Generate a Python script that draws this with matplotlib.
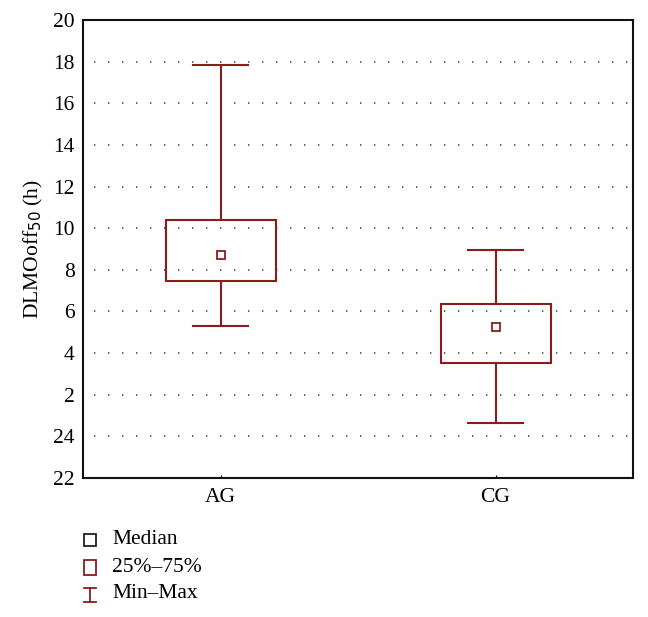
import matplotlib
matplotlib.use("Agg")
import matplotlib.pyplot as plt
from matplotlib.lines import Line2D
from matplotlib.patches import Rectangle

plt.rcParams['font.family'] = ['Liberation Serif', 'DejaVu Serif']

# Data (hours on a continuous clock axis starting at 22:00; 26 == 2 h next day)
groups = ["AG", "CG"]
mins = [29.3, 24.66]
q1s = [31.46, 27.51]
medians = [32.72, 29.23]
q3s = [34.39, 30.37]
maxs = [41.86, 32.93]
ytick_vals = [22, 24, 26, 28, 30, 32, 34, 36, 38, 40, 42, 44]
ytick_labels = ["22", "24", "2", "4", "6", "8", "10", "12", "14", "16", "18", "20"]

red = "#8a1c1c"
fs = 15.5
W, H = 648, 617
fig = plt.figure(figsize=(W / 100, H / 100), dpi=100)
ax = fig.add_axes([83 / W, 1 - 478 / H, 550 / W, 458 / H])

box_w = 0.4
cap_w = 0.2
for i in range(len(groups)):
    ax.add_patch(Rectangle((i - box_w / 2, q1s[i]), box_w, q3s[i] - q1s[i],
                           fill=False, edgecolor=red, lw=1.5, zorder=3))
    ax.plot([i, i], [q3s[i], maxs[i]], color=red, lw=1.5, zorder=3)
    ax.plot([i, i], [mins[i], q1s[i]], color=red, lw=1.5, zorder=3)
    ax.plot([i - cap_w / 2, i + cap_w / 2], [maxs[i], maxs[i]], color=red, lw=1.5, zorder=3)
    ax.plot([i - cap_w / 2, i + cap_w / 2], [mins[i], mins[i]], color=red, lw=1.5, zorder=3)
    ax.plot([i], [medians[i]], marker="s", ms=5.5, mfc="white", mec=red, mew=1.3, zorder=4)

ax.set_xlim(-0.5, 1.5)
ax.set_ylim(22, 44)
ax.set_xticks(range(len(groups)))
ax.set_xticklabels(groups, fontsize=fs)
ax.set_yticks(ytick_vals)
ax.set_yticklabels(ytick_labels, fontsize=fs)
ax.tick_params(axis='y', length=0, pad=6)
ax.tick_params(axis='x', direction='in', length=2, pad=7)
for v in ytick_vals[1:-1]:
    ax.axhline(v, xmin=0.02, xmax=1, color="#444444", lw=1.2,
               linestyle=(0, (0.8, 7.6)), zorder=1)
for s in ax.spines.values():
    s.set_color("#111111")
    s.set_linewidth(1.5)
ax.set_ylabel("DLMOoff$_{50}$ (h)", fontsize=fs, labelpad=6)

# Legend
def fx(x):
    return x / W
def fy(y):
    return 1 - y / H

fig.add_artist(Rectangle((fx(84), fy(546)), 12 / W, 12 / H, fill=False,
                         edgecolor="#222222", lw=1.3, transform=fig.transFigure))
fig.text(fx(112), fy(540), "Median", fontsize=fs, va="center")
fig.add_artist(Rectangle((fx(84), fy(575)), 12 / W, 15 / H, fill=False,
                         edgecolor=red, lw=1.3, transform=fig.transFigure))
fig.text(fx(112), fy(567), "25%–75%", fontsize=fs, va="center")
fig.add_artist(Line2D([fx(90), fx(90)], [fy(588), fy(602)], color=red, lw=1.3,
                      transform=fig.transFigure))
fig.add_artist(Line2D([fx(84), fx(96)], [fy(588), fy(588)], color=red, lw=1.3,
                      transform=fig.transFigure))
fig.add_artist(Line2D([fx(84), fx(96)], [fy(602), fy(602)], color=red, lw=1.3,
                      transform=fig.transFigure))
fig.text(fx(112), fy(594), "Min–Max", fontsize=fs, va="center")

fig.savefig("out.png", dpi=100)
